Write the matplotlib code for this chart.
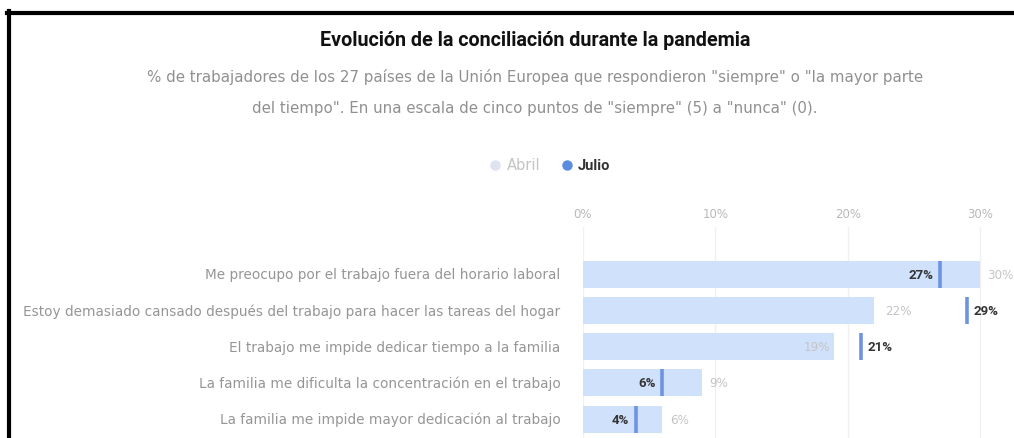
import numpy as np
import matplotlib.pyplot as plt
from matplotlib.lines import Line2D

plt.rcParams['font.family'] = ['Roboto', 'DejaVu Sans']

# datos: % de trabajadores (UE-27)
categorias = ["Me preocupo por el trabajo fuera del horario laboral",
              "Estoy demasiado cansado después del trabajo para hacer las tareas del hogar",
              "El trabajo me impide dedicar tiempo a la familia",
              "La familia me dificulta la concentración en el trabajo",
              "La familia me impide mayor dedicación al trabajo"]
abril = [30, 22, 19, 9, 6]
julio = [27, 29, 21, 6, 4]
ticks = [0, 10, 20, 30]

W, H = 1014, 439
ancho = ['DejaVu Sans']  # fuente ancha para los textos grises
fig = plt.figure(figsize=(W / 100, H / 100), dpi=100)

# eje: 0% en x=583, 30% en x=980, filas en y=276..421
ax = fig.add_axes([583 / W, 0, 1 - 583 / W, 1 - 228 / H])
ax.set_xlim(0, (W - 583) / ((980 - 583) / 30))
ax.set_ylim(4.52, -1.3)

y = np.arange(len(categorias))
ax.barh(y, abril, height=0.74, color="#d0e1fb", zorder=2)
for i in y:
    ax.plot([julio[i], julio[i]], [i - 0.37, i + 0.37], color="#6f93e3", lw=2.6, zorder=3, solid_capstyle="butt")

for t in ticks:
    ax.axvline(t, color="#f0f0f0", lw=1, zorder=1)
    ax.text(t, -1.3 - 0.2, f"{t}%", ha="center", va="bottom", fontsize=8.5, color="#b8b8b8",
            family=ancho, clip_on=False)

for i in y:
    a, j = abril[i], julio[i]
    ax.text(-1.7, i, categorias[i], ha="right", va="center", fontsize=9.85, color="#969696",
            family=ancho, clip_on=False)
    if j < a:
        ax.text(j - 0.5, i, f"{j}%", ha="right", va="center", fontsize=9.5, fontweight="bold", color="#333333")
        ax.text(a + 0.55, i, f"{a}%", ha="left", va="center", fontsize=8.6, color="#c4c4c4",
                family=ancho, clip_on=False)
    else:
        ax.text(j + 0.5, i, f"{j}%", ha="left", va="center", fontsize=9.5, fontweight="bold", color="#333333",
                clip_on=False)
        if j - a < 5:
            ax.text(a - 0.3, i, f"{a}%", ha="right", va="center", fontsize=8.6, color="#c4c4c4", family=ancho)
        else:
            ax.text(a + 0.8, i, f"{a}%", ha="left", va="center", fontsize=8.6, color="#c4c4c4", family=ancho)

ax.axis("off")

# titulo, subtitulo y leyenda
fig.text(535 / W, 1 - 40 / H, "Evolución de la conciliación durante la pandemia",
         ha="center", va="center", fontsize=14.2, fontweight="bold", color="#111111")
fig.text(535 / W, 1 - 77 / H, "% de trabajadores de los 27 países de la Unión Europea que respondieron \"siempre\" o \"la mayor parte",
         ha="center", va="center", fontsize=10.8, color="#909090", family=ancho)
fig.text(535 / W, 1 - 108 / H, "del tiempo\". En una escala de cinco puntos de \"siempre\" (5) a \"nunca\" (0).",
         ha="center", va="center", fontsize=10.8, color="#909090", family=ancho)

fig.add_artist(Line2D([495 / W], [1 - 166 / H], marker="o", ms=6.5, color="#dde4ef", transform=fig.transFigure))
fig.text(507 / W, 1 - 166 / H, "Abril", ha="left", va="center", fontsize=10.5, color="#c4c4c4", family=ancho)
fig.add_artist(Line2D([567 / W], [1 - 166 / H], marker="o", ms=6.5, color="#5b8ce0", transform=fig.transFigure))
fig.text(578 / W, 1 - 166 / H, "Julio", ha="left", va="center", fontsize=10.5, fontweight="bold", color="#333333")

# marco negro
fig.add_artist(Line2D([7 / W, 1], [1 - 13.5 / H, 1 - 13.5 / H], color="black", lw=3, transform=fig.transFigure))
fig.add_artist(Line2D([9 / W, 9 / W], [0, 1 - 12 / H], color="black", lw=3, transform=fig.transFigure))

plt.savefig("out.png", dpi=100)
